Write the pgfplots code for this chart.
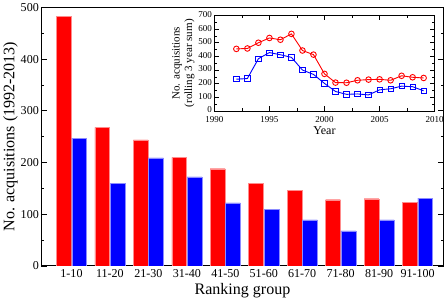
\documentclass[border=0pt]{standalone}
\usepackage{fontspec}
\setmainfont{Liberation Serif}
\usepackage{pgfplots}
\pgfplotsset{compat=1.18}
\definecolor{bred}{RGB}{255,0,0}
\definecolor{bblue}{RGB}{0,0,255}
\begin{document}
\begin{tikzpicture}
\begin{axis}[
  name=main, at={(0,0)}, anchor=south west,
  scale only axis, width=400bp, height=257bp,
  xmin=-0.785, xmax=9.68, ymin=0, ymax=500,
  xtick={0,...,9},
  xticklabels={1-10,11-20,21-30,31-40,41-50,51-60,61-70,71-80,81-90,91-100},
  major x tick style={draw=none},
  ytick={0,100,...,500}, minor y tick num=1,
  tick align=inside, major tick length=6bp, minor tick length=3bp,
  every tick/.style={black, line width=0.8pt},
  axis line style={line width=1pt},
  /pgf/number format/assume math mode=true,
  tick label style={font=\fontsize{12}{14}\selectfont},
  yticklabel style={xshift=1bp},
  xlabel={Ranking group}, ylabel={No. acquisitions (1992-2013)},
  label style={font=\fontsize{16}{18}\selectfont},
  xlabel style={yshift=1bp},
  ylabel style={yshift=-4bp},
]
\addplot[ybar, bar width=0.385, bar shift=-0.2, fill=bred, draw=red!45, line width=0.4pt] coordinates {
(0,483) (1,268) (2,244) (3,210) (4,188) (5,160) (6,146) (7,128) (8,130) (9,123)};
\addplot[ybar, bar width=0.385, bar shift=0.2, fill=bblue, draw=blue!45, line width=0.4pt] coordinates {
(0,247) (1,160) (2,209) (3,172) (4,122) (5,110) (6,89) (7,68) (8,89) (9,131)};
\end{axis}
\begin{axis}[
  at={(172bp,154bp)}, anchor=south west,
  scale only axis, width=219bp, height=95bp,
  axis background/.style={fill=white},
  xmin=1990, xmax=2010, ymin=0, ymax=700,
  xtick={1990,1995,...,2010}, minor x tick num=1,
  ytick={0,100,...,700}, minor y tick num=1,
  tick align=inside, major tick length=5bp, minor tick length=2.5bp,
  every tick/.style={black, line width=0.6pt},
  axis line style={line width=0.7pt},
  /pgf/number format/assume math mode=true,
  /pgf/number format/1000 sep={},
  tick label style={font=\fontsize{9}{10}\selectfont},
  xticklabel style={yshift=-1.5bp},
  yticklabel style={xshift=1bp, yshift=1bp},
  xlabel={Year},
  ylabel={No. acquisitions\\(rolling 3 year sum)},
  xlabel style={font=\fontsize{12}{13}\selectfont, yshift=2.5bp},
  ylabel style={align=center, font=\fontsize{11}{12.5}\selectfont, yshift=-3bp},
]
\addplot[red, line width=0.9pt, mark=o, mark size=2.8pt, mark options={fill=white, line width=0.9pt}] coordinates {
(1992,455) (1993,458) (1994,500) (1995,535) (1996,522) (1997,565) (1998,443) (1999,413) (2000,272)
(2001,208) (2002,207) (2003,225) (2004,230) (2005,232) (2006,225) (2007,258) (2008,247) (2009,242)};
\addplot[blue, line width=0.9pt, mark=square, mark size=2.6pt, mark options={fill=white, line width=0.9pt}] coordinates {
(1992,233) (1993,238) (1994,383) (1995,428) (1996,412) (1997,393) (1998,300) (1999,268) (2000,202)
(2001,143) (2002,122) (2003,125) (2004,118) (2005,155) (2006,163) (2007,182) (2008,178) (2009,148)};
\end{axis}
\end{tikzpicture}
\end{document}
